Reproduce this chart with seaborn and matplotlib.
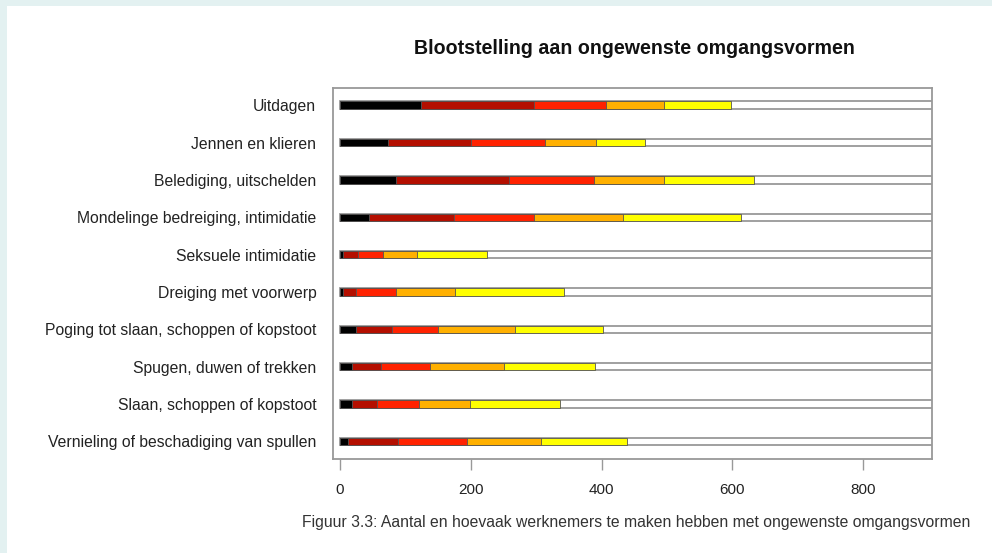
import matplotlib
matplotlib.use("Agg")
import matplotlib.pyplot as plt
import seaborn as sns
import numpy as np
from matplotlib.patches import Rectangle

categories = [
    "Uitdagen",
    "Jennen en klieren",
    "Belediging, uitschelden",
    "Mondelinge bedreiging, intimidatie",
    "Seksuele intimidatie",
    "Dreiging met voorwerp",
    "Poging tot slaan, schoppen of kopstoot",
    "Spugen, duwen of trekken",
    "Slaan, schoppen of kopstoot",
    "Vernieling of beschadiging van spullen",
]

# number of employees per frequency level (darkest = most often)
level_1 = [124, 74, 85, 45, 4, 5, 25, 19, 19, 12]
level_2 = [173, 126, 174, 129, 23, 19, 55, 43, 38, 77]
level_3 = [109, 114, 129, 123, 38, 62, 70, 76, 64, 105]
level_4 = [90, 77, 108, 135, 52, 90, 117, 112, 78, 114]
level_5 = [102, 75, 137, 181, 108, 167, 135, 140, 138, 130]
total = [910] * 10

level_colors = ["#000000", "#b40f00", "#ff2200", "#ffb000", "#ffff00"]

sns.set_style("white")
plt.rcParams["font.family"] = ["Liberation Sans", "DejaVu Sans"]

fig = plt.figure(figsize=(9.92, 5.53), dpi=100, facecolor="#e3f1f1")
fig.patches.append(Rectangle((7 / 992, 0), 1, 1 - 6 / 553, transform=fig.transFigure,
                             facecolor="white", edgecolor="none", zorder=-10))
ax = fig.add_axes([333 / 992, 1 - 459 / 553, (932 - 333) / 992, (459 - 88) / 553])
ax.set_zorder(5)

# stacked bars: draw cumulative sums from the back to the front
cum = np.cumsum([level_1, level_2, level_3, level_4, level_5], axis=0)

sns.barplot(x=total, y=categories, orient="h", color="white", saturation=1,
            width=0.2, edgecolor="#999999", linewidth=1.3, ax=ax)
for vals, col in zip(cum[::-1], level_colors[::-1]):
    sns.barplot(x=vals, y=categories, orient="h", color=col, saturation=1,
                width=0.2, edgecolor="#555555", linewidth=0.6, ax=ax)

ax.set_xlim(-10.7, 905)
ax.set_ylim(9.47, -0.46)
ax.set_xticks([0, 200, 400, 600, 800])
ax.set_xlabel("")
ax.set_ylabel("")
ax.tick_params(axis="x", bottom=True, length=8, width=1, color="#999999",
               labelsize=11, pad=9, labelcolor="#222222")
ax.tick_params(axis="y", left=False, length=0, labelsize=11.3, pad=12,
               labelcolor="#222222")
for sp in ax.spines.values():
    sp.set_color("#999999")
    sp.set_linewidth(1.3)

fig.text(634 / 992, 1 - 48 / 553, "Blootstelling aan ongewenste omgangsvormen",
         ha="center", va="center", fontsize=14.1, fontweight="bold", color="#111111")
fig.text(302 / 992, 1 - 522 / 553,
         "Figuur 3.3: Aantal en hoevaak werknemers te maken hebben met ongewenste omgangsvormen",
         ha="left", va="center", fontsize=11.35, color="#333333")

fig.savefig("out.png", dpi=100, facecolor=fig.get_facecolor())
